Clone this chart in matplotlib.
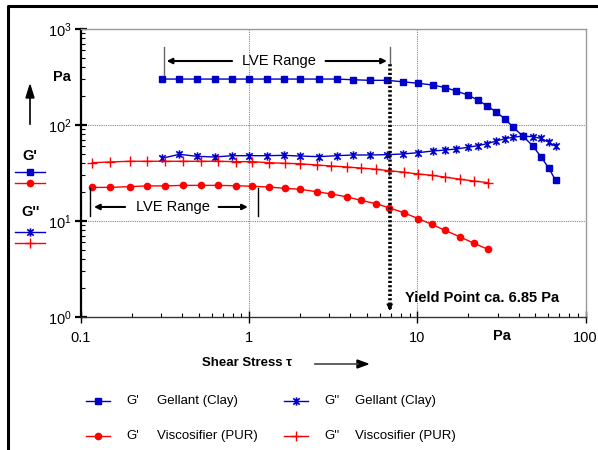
import numpy as np
import matplotlib
matplotlib.use("Agg")
import matplotlib.pyplot as plt
from matplotlib.lines import Line2D
from matplotlib.path import Path
from matplotlib.ticker import LogLocator, FuncFormatter, NullFormatter

plt.rcParams['font.family'] = ['Liberation Sans', 'DejaVu Sans']
plt.rcParams['mathtext.fontset'] = 'custom'
plt.rcParams['mathtext.rm'] = 'Liberation Sans'
plt.rcParams['mathtext.bf'] = 'Liberation Sans:bold'

# shear stress values (Pa)
tau_clay = [0.304, 0.384, 0.489, 0.623, 0.793, 1.00, 1.269, 1.614, 2.00, 2.606,
            3.31, 4.15, 5.24, 6.61, 8.19, 10.1, 12.35, 14.7, 17.0, 20.0,
            22.9, 25.9, 29.4, 33.2, 37.2, 42.3, 48.5, 54.3, 60.6, 66.4]
g1_clay = [301, 301, 301, 301, 301, 301, 301, 301, 301, 301,
           301, 296, 292, 292, 282, 272, 261, 245, 226, 205,
           182, 159, 137, 115.5, 94.6, 76.8, 60.9, 46.7, 35.4, 26.5]
g2_clay = [45.0, 49.5, 47.2, 46.4, 47.9, 47.9, 47.9, 48.3, 47.5, 46.8,
           47.9, 48.7, 48.7, 49.1, 49.9, 51.5, 53.6, 54.9, 56.2, 58.6,
           60.9, 63.8, 68.1, 72.0, 74.5, 76.8, 75.5, 72.7, 66.0, 60.0]

tau_pur = [0.1167, 0.1493, 0.1947, 0.2477, 0.3144, 0.402, 0.514, 0.654, 0.830, 1.042,
           1.304, 1.636, 2.00, 2.515, 3.087, 3.843, 4.63, 5.71, 6.79, 8.30,
           10.1, 12.18, 14.6, 18.0, 21.7, 26.3]
g1_pur = [22.4, 22.4, 22.8, 23.2, 23.2, 23.5, 23.5, 23.5, 23.3, 23.0,
          22.6, 21.9, 21.4, 20.2, 19.1, 17.8, 16.4, 15.1, 13.75, 12.2,
          10.6, 9.24, 8.0, 6.81, 5.86, 5.07]
g2_pur = [40.5, 41.2, 41.9, 41.9, 41.9, 41.9, 41.9, 41.9, 41.5, 41.5,
          40.5, 39.9, 39.5, 38.3, 37.4, 36.5, 35.6, 34.6, 33.4, 32.2,
          30.9, 29.9, 28.7, 27.2, 26.1, 25.1]

yield_point = 6.85
legend_rows = [("G'", "Gellant (Clay)", "G''", "Gellant (Clay)"),
               ("G'", "Viscosifier (PUR)", "G''", "Viscosifier (PUR)")]

BLUE = '#0000c8'
RED = '#ff0000'
W, H = 598.0, 450.0

# x with a vertical bar, like the original star symbol
STAR = Path([(-1, -1), (1, 1), (-1, 1), (1, -1), (0, -1.3), (0, 1.3)],
            [Path.MOVETO, Path.LINETO, Path.MOVETO, Path.LINETO, Path.MOVETO, Path.LINETO])

def fx(px):
    return px / W

def fy(py):
    return 1 - py / H

fig = plt.figure(figsize=(5.98, 4.5), dpi=100)
ax = fig.add_axes([fx(81), fy(317), (585.5 - 81) / W, (317 - 29) / H])

ax.set_xscale('log')
ax.set_yscale('log')
ax.set_xlim(0.1, 100)
ax.set_ylim(1, 1000)

ax.plot(tau_clay, g1_clay, color=BLUE, lw=1, marker='s', ms=4.5, mec=BLUE, mfc=BLUE)
ax.plot(tau_clay, g2_clay, color=BLUE, lw=1, marker=STAR, ms=6, mew=1.2, mec=BLUE)
ax.plot(tau_pur, g1_pur, color=RED, lw=1, marker='o', ms=4.5, mec=RED, mfc=RED)
ax.plot(tau_pur, g2_pur, color=RED, lw=1, marker='+', ms=7, mew=1, mec=RED)

# grid only at inner decades
for v in [1, 10]:
    ax.axvline(v, color='#888888', lw=0.8, ls=(0, (1, 1)), zorder=0)
for v in [10, 100]:
    ax.axhline(v, color='#888888', lw=0.8, ls=(0, (1, 1)), zorder=0)

ax.spines['left'].set_color('black')
ax.spines['left'].set_linewidth(1.6)
ax.spines['bottom'].set_color('#333333')
ax.spines['bottom'].set_linewidth(1.0)
for s in ['top', 'right']:
    ax.spines[s].set_color('#999999')
    ax.spines[s].set_linewidth(1.0)

ax.xaxis.set_major_locator(LogLocator(base=10, numticks=10))
ax.xaxis.set_minor_locator(LogLocator(base=10, subs=np.arange(2, 10), numticks=20))
ax.yaxis.set_minor_locator(LogLocator(base=10, subs=np.arange(2, 10), numticks=20))
ax.xaxis.set_major_formatter(FuncFormatter(lambda v, p: f'{v:g}'))
ax.yaxis.set_major_formatter(FuncFormatter(lambda v, p: r'$\mathregular{10^{%d}}$' % round(np.log10(v))))
ax.xaxis.set_minor_formatter(NullFormatter())
ax.yaxis.set_minor_formatter(NullFormatter())
ax.tick_params(which='major', direction='inout', length=8, width=1, labelsize=10.5, colors='black')
ax.tick_params(axis='y', which='major', width=1.6, pad=3)
ax.tick_params(axis='x', which='major', pad=6)
ax.tick_params(which='minor', direction='in', length=3, width=0.8)
ax.tick_params(top=False, right=False, which='both')

# upper LVE range bracket
ax.plot([0.311, 0.311], [332, 649], color='#666666', lw=1)
ax.plot([yield_point, yield_point], [443, 649], color='#666666', lw=1)
ax.annotate('', xy=(0.311, 464), xytext=(0.822, 464),
            arrowprops=dict(arrowstyle='-|>', color='black', lw=1.5, mutation_scale=8))
ax.annotate('', xy=(yield_point, 464), xytext=(2.74, 464),
            arrowprops=dict(arrowstyle='-|>', color='black', lw=1.5, mutation_scale=8))
ax.text(1.51, 464, 'LVE Range', ha='center', va='center', fontsize=10.5)

# lower LVE range bracket
ax.plot([0.113, 0.113], [11.3, 22.1], color='black', lw=1)
ax.plot([1.127, 1.127], [11.3, 22.1], color='black', lw=1)
ax.annotate('', xy=(0.115, 14.0), xytext=(0.19, 14.0),
            arrowprops=dict(arrowstyle='-|>', color='black', lw=1.5, mutation_scale=8))
ax.annotate('', xy=(1.02, 14.0), xytext=(0.634, 14.0),
            arrowprops=dict(arrowstyle='-|>', color='black', lw=1.5, mutation_scale=8))
ax.text(0.352, 14.0, 'LVE Range', ha='center', va='center', fontsize=10.5)

# yield point
ax.plot([yield_point, yield_point], [1.2, 443], color='black', lw=2.6, ls=(0, (0.6, 0.6)))
ax.annotate('', xy=(yield_point, 1.09), xytext=(yield_point, 1.3),
            arrowprops=dict(arrowstyle='-|>', color='black', lw=1, mutation_scale=9))
ax.text(8.42, 1.58, 'Yield Point ca. 6.85 Pa', ha='left', va='center',
        fontsize=10.5, fontweight='bold')

# axis captions
fig.text(fx(62), fy(77), 'Pa', ha='center', va='center', fontsize=10.5, fontweight='bold')
fig.text(fx(502), fy(336), 'Pa', ha='center', va='center', fontsize=10.5, fontweight='bold')
fig.text(fx(247), fy(363), 'Shear Stress τ', ha='center', va='center', fontsize=9.5, fontweight='bold')
fig.add_artist(Line2D([fx(315), fx(358)], [fy(364), fy(364)], color='#444444', lw=1.2))
fig.patches.append(plt.Polygon([[fx(357), fy(360)], [fx(368), fy(364)], [fx(357), fy(368)]],
                               closed=True, color='black', transform=fig.transFigure))
fig.add_artist(Line2D([fx(30), fx(30)], [fy(124), fy(96)], color='black', lw=1.2))
fig.patches.append(plt.Polygon([[fx(26), fy(98)], [fx(30), fy(85)], [fx(34), fy(98)]],
                               closed=True, color='black', transform=fig.transFigure))

# left-hand key
fig.text(fx(30), fy(156), "G'", ha='center', va='center', fontsize=10.5, fontweight='bold')
fig.text(fx(31), fy(212), "G''", ha='center', va='center', fontsize=10.5, fontweight='bold')
left_keys = [(172.3, BLUE, 's', 4.5, 1), (183.3, RED, 'o', 4.5, 1),
             (231.7, BLUE, STAR, 6, 1.2), (243.3, RED, '+', 7, 1)]
for py, c, m, ms, mew in left_keys:
    fig.add_artist(Line2D([fx(15), fx(45)], [fy(py), fy(py)], color=c, lw=1))
    fig.add_artist(Line2D([fx(30)], [fy(py)], color=c, marker=m, ms=ms, mew=mew, mfc=c, mec=c))

# bottom legend
key_style = [[(BLUE, 's', 4.5, 1), (BLUE, STAR, 6, 1.2)],
             [(RED, 'o', 4.5, 1), (RED, '+', 7, 1)]]
for row, py in enumerate([401, 436]):
    for col, x0 in enumerate([86, 284]):
        c, m, ms, mew = key_style[row][col]
        fig.add_artist(Line2D([fx(x0), fx(x0 + 24)], [fy(py), fy(py)], color=c, lw=1))
        fig.add_artist(Line2D([fx(x0 + 12)], [fy(py)], color=c, marker=m, ms=ms, mew=mew, mfc=c, mec=c))
        fig.text(fx(x0 + 40), fy(py), legend_rows[row][col * 2], ha='left', va='center', fontsize=9.5)
        fig.text(fx(x0 + 71), fy(py), legend_rows[row][col * 2 + 1], ha='left', va='center', fontsize=9.5)

# outer frame (cut at right and bottom)
fig.add_artist(Line2D([fx(8), fx(8), fx(597)], [0, fy(6), fy(6)], color='black', lw=2.2))

fig.savefig('out.png', dpi=100)
